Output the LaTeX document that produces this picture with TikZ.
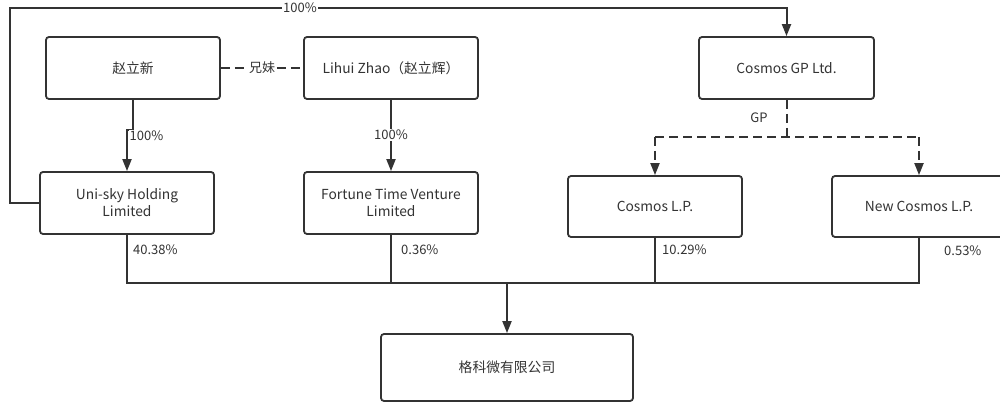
\documentclass[tikz,border=0pt]{standalone}
\usepackage{fontspec}
\setmainfont{Noto Sans CJK SC}
\usetikzlibrary{arrows.meta}
\definecolor{ink}{HTML}{333333}
\begin{document}
\begin{tikzpicture}[x=1pt,y=-1pt,
  box/.style={draw=ink,line width=1.8pt,rounded corners=3pt,fill=white,text=ink,
    minimum width=#1,minimum height=62pt,inner sep=0pt,align=center,font=\fontsize{13.8}{17}\selectfont},
  box/.default=175pt,
  con/.style={draw=ink,line width=2pt},
  arr/.style={con,-{Triangle[length=12pt,width=9pt]}},
  dsh/.style={con,dash pattern=on 9pt off 5pt},
  bus/.style={draw=ink,line width=1.7pt},
  lab/.style={text=ink,font=\fontsize{13}{15}\selectfont,inner sep=1pt}]
\useasboundingbox (0,0) rectangle (1000,403);
\clip (0,0) rectangle (1000,403);
\fill[white] (0,0) rectangle (1000,403);
% nodes
\node[box=174pt] (zhao) at (133,68) {赵立新};
\node[box=174pt] (lihui) at (391,68) {Lihui Zhao（赵立辉）};
\node[box] (gp) at (786.5,68) {Cosmos GP Ltd.};
\node[box=174pt] (uni) at (127,203) {Uni-sky Holding\\Limited};
\node[box=174pt] (fortune) at (391,203) {Fortune Time Venture\\Limited};
\node[box=174pt,minimum height=61pt] (clp) at (655,206.5) {Cosmos L.P.};
\node[box=174pt,minimum height=61pt] (nclp) at (919,206.5) {New Cosmos L.P.};
\node[box=252pt,minimum height=67pt] (main) at (507,367.5) {格科微有限公司};
\coordinate (tl) at (10,8);
\coordinate (busL) at (0,283);
\coordinate (gpj) at (0,137);
% top loop
\draw[arr] (uni.west) -| (tl) -| (gp.north);
\node[lab,fill=white] at (300,8) {100\%};
% sibling
\draw[dsh] (zhao.east) -- (lihui.west);
\node[lab,fill=white] at (262,68) {兄妹};
% ownership arrows
\draw[arr] (zhao.south) -- (zhao.south |- 0,130) -| (uni.north);
\node[lab,fill=white,anchor=west] at (128.5,136) {100\%};
\draw[arr] (lihui.south) -- (fortune.north);
\node[lab,fill=white] at (391,135) {100\%};
% GP
\draw[dsh] (gp.south) -- (gp.south |- gpj);
\draw[dsh,-{Triangle[length=12pt,width=9pt]}] (clp.north |- gpj) -- (clp.north);
\draw[dsh,-{Triangle[length=12pt,width=9pt]}] (nclp.north |- gpj) -- (nclp.north);
\draw[dsh] (clp.north |- gpj) -- (nclp.north |- gpj);
\node[lab] at (759,118) {GP};
% bus
\draw[bus] (uni.south) -- (uni.south |- busL) -- (nclp.south |- busL) -- (nclp.south);
\draw[bus] (fortune.south) -- (fortune.south |- busL);
\draw[bus] (clp.south) -- (clp.south |- busL);
\draw[arr] (main.north |- busL) -- (main.north);
\node[lab,anchor=west] at (132,250) {40.38\%};
\node[lab,anchor=west] at (400,250) {0.36\%};
\node[lab,anchor=west] at (661,250) {10.29\%};
\node[lab,anchor=west] at (943,251) {0.53\%};
\end{tikzpicture}
\end{document}
